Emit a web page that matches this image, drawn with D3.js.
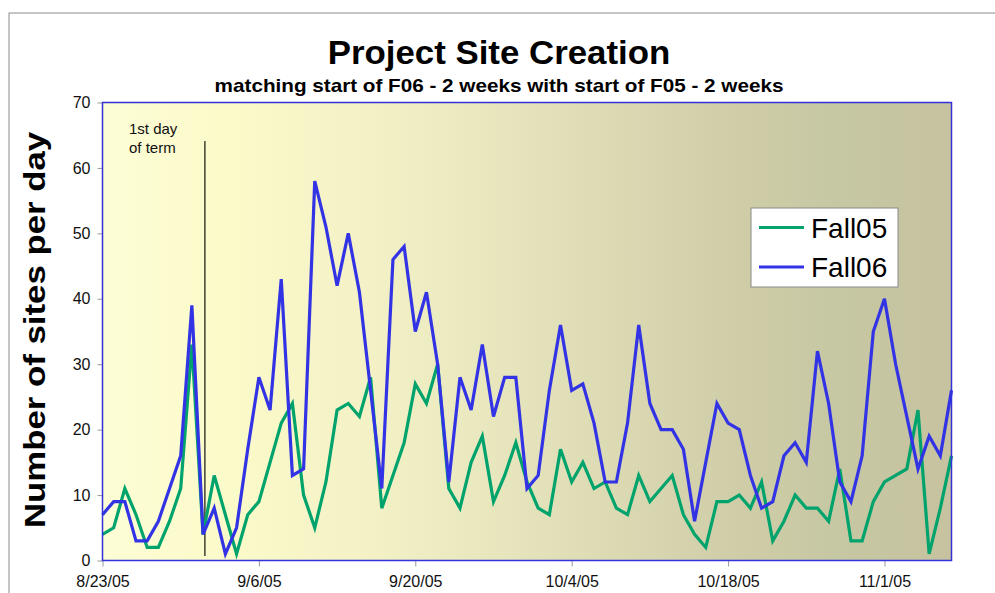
<!DOCTYPE html>
<html>
<head>
<meta charset="utf-8">
<script src="https://cdn.jsdelivr.net/npm/d3@7"></script>
<style>
  body { margin: 0; background: #fff; }
  #chart { width: 995px; height: 593px; }
  text { font-family: "Liberation Sans", Arial, sans-serif; }
</style>
</head>
<body>
<div id="chart"></div>
<script>
const startDate = "8/23/05";
const endDate = "11/7/05";
const fall05 = [4, 5, 11, 7, 2, 2, 6, 11, 33, 4, 13, 7, 1, 7, 9, 15, 21, 24, 10, 5,
  12, 23, 24, 22, 28, 8, 13, 18, 27, 24, 30, 11, 8, 15, 19, 9, 13, 18, 12, 8,
  7, 17, 12, 15, 11, 12, 8, 7, 13, 9, 11, 13, 7, 4, 2, 9, 9, 10, 8, 12,
  3, 6, 10, 8, 8, 6, 14, 3, 3, 9, 12, 13, 14, 23, 1, 8, 16];
const fall06 = [7, 9, 9, 3, 3, 6, 11, 16, 39, 4, 8, 1, 5, 17, 28, 23, 43, 13, 14, 58,
  51, 42, 50, 41, 26, 11, 46, 48, 35, 41, 30, 12, 28, 23, 33, 22, 28, 28, 11, 13,
  26, 36, 26, 27, 21, 12, 12, 21, 36, 24, 20, 20, 17, 6, 15, 24, 21, 20, 13, 8,
  9, 16, 18, 15, 32, 24, 12, 9, 16, 35, 40, 30, 22, 14, 19, 16, 26];
const seriesNames = ["Fall05", "Fall06"];
const seriesColors = ["#00A36C", "#3333E6"];
const xTickLabels = ["8/23/05", "9/6/05", "9/20/05", "10/4/05", "10/18/05", "11/1/05"];
const yTicks = [0, 10, 20, 30, 40, 50, 60, 70];
const termStart = "9/1/05";
const termLabel = ["1st day", "of term"];

const parse = d3.utcParse("%m/%d/%y");
const start = parse(startDate);
const days = d3.utcDay.range(start, d3.utcDay.offset(parse(endDate), 1));

const width = 995, height = 593;
const plot = { left: 102.5, right: 951.5, top: 102.5, bottom: 560.5 };

const x = d3.scaleUtc().domain([start, parse(endDate)]).range([plot.left, plot.right]);
const y = d3.scaleLinear().domain([0, 70]).range([plot.bottom, plot.top]);

const svg = d3.select("#chart").append("svg")
  .attr("width", width)
  .attr("height", height);

// outer chart frame (only top and left visible)
svg.append("rect")
  .attr("x", 9).attr("y", 13)
  .attr("width", 1100).attr("height", 700)
  .attr("fill", "none")
  .attr("stroke", "#8c8c8c")
  .attr("stroke-width", 1);

const grad = svg.append("defs").append("linearGradient")
  .attr("id", "bg").attr("x1", "0%").attr("x2", "100%");
[["0%", "#FDFDD6"], ["15%", "#FBFAC9"], ["30%", "#F4F2C6"], ["45%", "#E9E7BE"],
 ["60%", "#DCDAB3"], ["75%", "#CFCDA8"], ["86%", "#C6C8A3"], ["100%", "#C7C29F"]]
  .forEach(([o, c]) => grad.append("stop").attr("offset", o).attr("stop-color", c));

svg.append("rect")
  .attr("x", plot.left).attr("y", plot.top)
  .attr("width", plot.right - plot.left).attr("height", plot.bottom - plot.top)
  .attr("fill", "url(#bg)");

// y axis
const yAxis = svg.append("g")
  .attr("transform", `translate(${plot.left},0)`)
  .call(d3.axisLeft(y).tickValues(yTicks).tickSize(5).tickPadding(7));
yAxis.select(".domain").remove();
yAxis.selectAll("line").attr("stroke", "#999");
yAxis.selectAll("text").attr("font-size", 16).attr("fill", "#111")
  .style("font-family", "'Liberation Sans', Arial, sans-serif");

// x axis
const xAxis = svg.append("g")
  .attr("transform", `translate(0,${plot.bottom})`)
  .call(d3.axisBottom(x).tickValues(xTickLabels.map(parse)).tickSize(6).tickPadding(9)
    .tickFormat((d, i) => xTickLabels[i]));
xAxis.select(".domain").remove();
xAxis.selectAll("line").attr("stroke", "#999");
xAxis.selectAll("text").attr("font-size", 16).attr("fill", "#111")
  .style("font-family", "'Liberation Sans', Arial, sans-serif");

// term start marker
const termX = x(d3.utcHour.offset(parse(termStart), 4));
svg.append("line")
  .attr("x1", termX).attr("x2", termX)
  .attr("y1", 141).attr("y2", 556)
  .attr("stroke", "#111").attr("stroke-width", 1.2);
svg.append("text")
  .attr("x", 129).attr("y", 134)
  .attr("font-size", 15).attr("fill", "#111")
  .selectAll("tspan").data(termLabel).join("tspan")
  .attr("x", 129).attr("dy", (d, i) => i ? 19 : 0)
  .text(d => d);

const line = d3.line()
  .x((d, i) => x(days[i]))
  .y(d => y(d));

svg.selectAll(".series")
  .data([fall05, fall06])
  .join("path")
  .attr("class", "series")
  .attr("d", line)
  .attr("fill", "none")
  .attr("stroke", (d, i) => seriesColors[i])
  .attr("stroke-width", 3.2)
  .attr("stroke-linejoin", "miter");

svg.append("rect")
  .attr("x", plot.left).attr("y", plot.top)
  .attr("width", plot.right - plot.left).attr("height", plot.bottom - plot.top)
  .attr("fill", "none")
  .attr("stroke", "#3232D8")
  .attr("stroke-width", 1.5);

// legend
const legend = svg.append("g").attr("transform", "translate(751,208)");
legend.append("rect")
  .attr("width", 147).attr("height", 79)
  .attr("fill", "#fff").attr("stroke", "#8a8a8a");
seriesNames.forEach((name, i) => {
  legend.append("line")
    .attr("x1", 8).attr("x2", 53)
    .attr("y1", 19.5 + i * 39.5).attr("y2", 19.5 + i * 39.5)
    .attr("stroke", seriesColors[i]).attr("stroke-width", 3.2);
  legend.append("text")
    .attr("x", 60).attr("y", 30 + i * 39)
    .attr("font-size", 28).attr("fill", "#000")
    .text(name);
});

// titles (reference glyphs are slightly stretched horizontally)
svg.append("text")
  .attr("transform", "translate(499,64) scale(1.04,1)")
  .attr("text-anchor", "middle")
  .attr("font-size", 33.5).attr("font-weight", "bold")
  .text("Project Site Creation");
svg.append("text")
  .attr("transform", "translate(499,92) scale(1.15,1)")
  .attr("text-anchor", "middle")
  .attr("font-size", 18).attr("font-weight", "bold")
  .text("matching start of F06 - 2 weeks with start of F05 - 2 weeks");

svg.append("text")
  .attr("transform", "translate(45,330) rotate(-90) scale(1.2,1)")
  .attr("text-anchor", "middle")
  .attr("font-size", 29).attr("font-weight", "bold")
  .text("Number of sites per day");
</script>
</body>
</html>
